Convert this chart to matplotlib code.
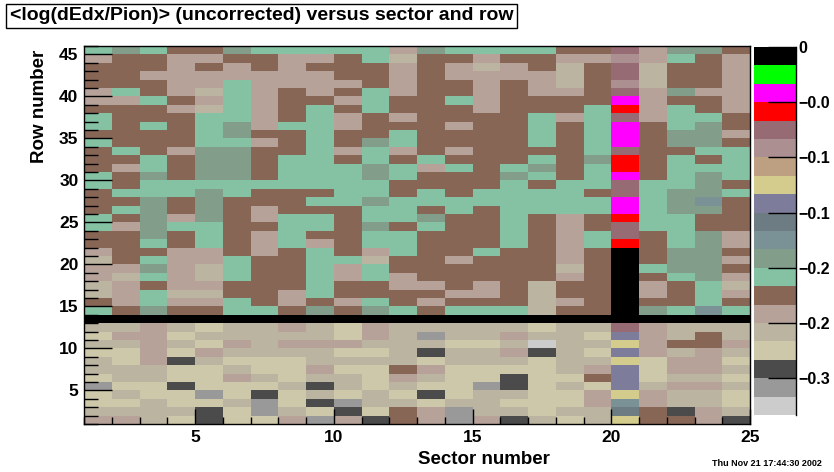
import numpy as np
import matplotlib
matplotlib.use("Agg")
import matplotlib.pyplot as plt
from matplotlib.colors import ListedColormap, BoundaryNorm

# palette from lowest to highest bin (ROOT-like)
palette = ["#cccccc", "#999999", "#4b4b4b", "#cdc8aa", "#bbb4a0", "#b7a29a",
           "#886656", "#85c1a3", "#829e8b", "#7a9196", "#6c7c82", "#7d7c9b",
           "#d3cc8c", "#bd9f82", "#ab8f91", "#976b73", "#ff0000", "#ff00ff",
           "#00ff00", "#000000"]
code_index = {"L": 0, "R": 1, "D": 2, "C": 3, "Y": 4, "P": 5, "B": 6, "G": 7,
              "E": 8, "U": 9, "S": 10, "V": 11, "H": 12, "T": 13, "m": 14,
              "M": 15, "X": 16, "Q": 17, "N": 18, "K": 19}
zmin, zmax = -0.3333, 0.0

sectors = list(range(1, 25))
rows = list(range(1, 46))
# colour-bin codes per row (row 45 first), sectors 1..24
row_codes = [
    "GEGBBEGGGGGP" "EGGGGBBMPEEB",
    "PBBPPBBPPBGY" "BBPBBPPmPGBP",
    "BBBPBPBPBBBP" "BPYPBYBMYBBP",
    "BBPPPPPPPBBP" "BPPPPYBMYBBP",
    "BBBPPGPPPPBP" "BBPBPYBmYBBP",
    "PGBPYGPBPBGP" "BBPBPPBMPEPP",
    "PPGBPGPBBPGB" "BGPBBBBQPBBP",
    "BBBPYGPBGBGB" "BBPBBBGXPGBP",
    "GBBBGGPBGPBP" "BBBBGPGMPGGB",
    "GBGBGEPGGPBB" "BPBBGBGQBGEB",
    "BBBBGEBBGBBG" "BBBBGBGQBEEP",
    "GBBBGGPBGBEG" "BBBBGBGQBEEB",
    "BGBPEEBBGPGP" "BPBBBBGMBBGG",
    "BBGBEEBGGBGB" "GBBBGBEXBGBG",
    "BPGBEEBGGGEG" "PGBGEBGXBGGG",
    "GBEBEEBGGGEG" "BBBEGBGQBGEG",
    "GBGGGGGGGGGB" "BBBGBGGMGGEB",
    "BGGGEGBBBGGB" "GBGGGGBMGEEG",
    "BBEBEBBBGGEG" "GGGGGGGQGEUB",
    "BGEBEBPBBBGG" "BGBGGGGQGEEB",
    "GBEPEBPGGBGG" "EBBGBPBXGGBB",
    "GPEGGBBGGBEB" "GBBGBPBMGGBB",
    "BBEBGBPGBBGG" "BBBGBPGMBGEP",
    "BBGBGBPGPBGG" "BBBGBPGXBGEP",
    "PBBPPBPBGBPG" "BBGBBPBKBEEB",
    "YBGPPGBBGGYB" "BPBBBPBKBEEP",
    "PPEPYGBBGPGB" "BBBBBYBKGEEB",
    "PYGPYGBBGPGP" "BBBBBPBKBGEP",
    "YPBPPBBBGBBP" "PBPBYBBKPBGY",
    "YPGYYBBPGBBB" "BPPBYBBKPBGP",
    "BPGPPGBPBPGB" "PBBBYPBKBBGB",
    "GBEBBGGBEBEG" "BGGGYBBKEGUG",
    "KKKKKKKKKKKK" "KKKKKKKKKKKK",
    "YYPYCYYPYCPY" "YYYYCYYMPYYY",
    "CPPCYYYYYCPY" "RYYPYYCVPYBY",
    "YYPYCPYPPPYY" "YCCYLYYHPBBP",
    "CCPCPYYYYCCY" "DYYPDYCVPYPY",
    "YCPDYCCCYYYY" "CYYYCYYHCPPC",
    "YYYCCYCCPCCB" "PCCCCYPVCPPY",
    "CYYCCPYCYYCP" "YCCDCCBVCYYC",
    "RCCDCCCYDYCY" "CCRDCYCVYPPY",
    "CYCCRCDCYCYC" "DCYYCCPHPYYC",
    "CCYCCYRCDRYY" "CYYCCCPUPYYC",
    "YYYYDCRYCDCB" "PRYYCYYSBDPY",
    "PPYCDCCPRPDB" "PRPDYCYHBBPD",
]

nb = len(palette)
step = (zmax - zmin) / nb
values = np.array([[zmin + (code_index[c] + 0.5) * step for c in r]
                   for r in row_codes[::-1]])

fig = plt.figure(figsize=(8.34, 4.72), dpi=100)
W, H = 834, 472
ax = fig.add_axes([84 / W, 1 - 424 / H, (750 - 84) / W, (424 - 46) / H])
cmap = ListedColormap(palette)
bounds = np.linspace(zmin, zmax, nb + 1)
norm = BoundaryNorm(bounds, nb)
xe = np.arange(1, 26)
ye = np.arange(1, 47)
ax.pcolormesh(xe, ye, values, cmap=cmap, norm=norm)
ax.set_xlim(1, 25)
ax.set_ylim(1, 46)

fp = dict(family="Liberation Sans", weight="bold")
ax.set_xticks([5, 10, 15, 20, 25])
ax.set_xticks(range(1, 26), minor=True)
ax.set_yticks([5, 10, 15, 20, 25, 30, 35, 40, 45])
ax.set_yticks(range(1, 47), minor=True)
ax.tick_params(axis="x", which="major", direction="in", length=11, width=1, labelsize=12.5, pad=4)
ax.tick_params(axis="x", which="minor", direction="in", length=5, width=1)
ax.tick_params(axis="y", which="major", direction="in", length=20, width=1, labelsize=12.5, pad=4)
ax.tick_params(axis="y", which="minor", direction="in", length=10, width=1)
for lab in ax.get_xticklabels() + ax.get_yticklabels():
    lab.set_fontfamily("Liberation Sans")
    lab.set_fontweight("bold")
for s in ax.spines.values():
    s.set_linewidth(1)
ax.set_xlabel("Sector number", fontsize=13.5, x=0.6, labelpad=5, **fp)
ax.set_ylabel("Row number", fontsize=13.5, y=0.84, labelpad=8, **fp)

# colour bar
cax = fig.add_axes([754 / W, 1 - 415 / H, (796 - 754) / W, (415 - 47) / H])
cax.pcolormesh([0, 1], bounds, np.array([(bounds[:-1] + bounds[1:]) / 2]).T,
               cmap=cmap, norm=norm)
cax.set_xlim(0, 1)
cax.set_ylim(zmin, zmax)
cax.set_xticks([])
cax.yaxis.tick_right()
cb_ticks = [0, -0.05, -0.1, -0.15, -0.2, -0.25, -0.3]
cb_labels = ["0", "−0.0", "−0.1", "−0.1", "−0.2", "−0.2", "−0.3"]
cax.set_yticks(cb_ticks)
cax.set_yticklabels(cb_labels)
cax.tick_params(axis="y", direction="in", length=20, width=1, labelsize=11.5, pad=2)
for lab in cax.get_yticklabels():
    lab.set_fontfamily("Liberation Sans")
    lab.set_fontweight("bold")
for k in ["top", "bottom", "left"]:
    cax.spines[k].set_visible(False)
cax.spines["right"].set_linewidth(1)

fig.text(10 / W, 1 - 16 / H, "<log(dEdx/Pion)> (uncorrected) versus sector and row",
         fontsize=14, va="center", ha="left",
         bbox=dict(boxstyle="square,pad=0.2", fc="white", ec="black", lw=1), **fp)
fig.text(822 / W, 1 - 463 / H, "Thu Nov 21 17:44:30 2002", fontsize=6.5,
         ha="right", va="center", **fp)

fig.savefig("out.png", dpi=100)
